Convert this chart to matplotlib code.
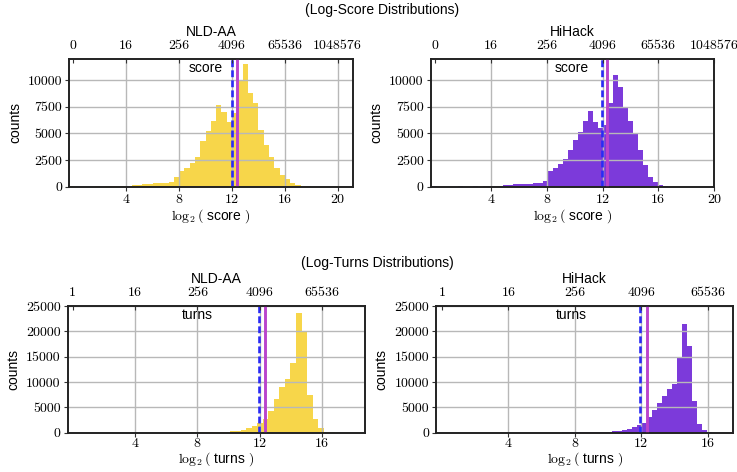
import numpy as np
import matplotlib
matplotlib.use('Agg')
from matplotlib import pyplot as plt

plt.rcParams['font.family'] = 'Liberation Sans'
plt.rcParams['mathtext.fontset'] = 'cm'
plt.rcParams['font.size'] = 10
plt.rcParams['axes.unicode_minus'] = False

# histogram counts (log2 bins, one value per bin)
nld_score_start, nld_score_width = -0.4, 0.4
nld_score_counts = [100, 0, 0, 0, 0, 60, 0, 30, 30, 40,
                    50, 100, 130, 190, 220, 280, 310, 340, 310, 470,
                    880, 1500, 1760, 2260, 2830, 4280, 5190, 6200, 7650, 7000,
                    6070, 6900, 10000, 11500, 8800, 7800, 5280, 3870, 2770, 1760,
                    1130, 720, 310, 160, 60, 20, 10, 0, 0, 0,
                    0, 10]

hh_score_start, hh_score_width = -0.203, 0.36
hh_score_counts = [100, 0, 0, 0, 0, 40, 0, 0, 40, 0,
                   30, 50, 60, 90, 130, 160, 220, 280, 280, 250,
                   300, 350, 500, 1500, 1760, 2140, 2600, 3400, 4400, 5130,
                   6160, 7050, 6100, 5500, 5800, 7800, 10500, 9300, 7500, 6200,
                   5000, 3400, 2000, 950, 410, 160, 60, 10]

nld_turns_start, nld_turns_width = 0.13, 0.355
nld_turns_counts = [0, 0, 0, 0, 0, 0, 0, 0, 0, 0,
                    0, 0, 0, 0, 0, 0, 0, 0, 0, 20,
                    30, 50, 60, 70, 80, 100, 130, 200, 300, 400,
                    530, 990, 1320, 1970, 2700, 4280, 6700, 8950, 10500, 13700,
                    23560, 19940, 7430, 2700, 860, 200, 40]

hh_turns_start, hh_turns_width = 0.04, 0.3
hh_turns_counts = [0, 0, 0, 0, 0, 0, 0, 0, 0, 0,
                   0, 0, 0, 0, 0, 0, 0, 0, 0, 0,
                   0, 0, 0, 20, 40, 80, 80, 40, 40, 60,
                   90, 120, 160, 220, 300, 400, 530, 720, 1050, 1510,
                   1970, 3030, 4470, 5790, 7300, 8620, 9600, 14670, 21450, 17100,
                   6320, 1710, 530, 130]

# reference lines (log2 values)
score_dashed = [12.02, 11.94]
score_solid = [12.38, 12.33]
turns_dashed = [11.94, 11.94]
turns_solid = [12.32, 12.34]

score_top_ticks = [0, 4, 8, 12, 16, 20]
score_top_labels = ['0', '16', '256', '4096', '65536', '1048576']
turns_top_ticks = [0, 4, 8, 12, 16]
turns_top_labels = ['1', '16', '256', '4096', '65536']

yellow = '#f7d64a'
purple = '#7c3ada'

fig = plt.figure(figsize=(7.37, 4.72), dpi=100)

W, H = 737., 472.
def box(x0, y0, x1, y1):
    return [x0/W, 1-y1/H, (x1-x0)/W, (y1-y0)/H]

panels = [
    (box(69, 59, 353, 186.7), nld_score_start, nld_score_width, nld_score_counts, yellow,
     (-0.33, 21.16), 11970, [0, 2500, 5000, 7500, 10000], score_dashed[0], score_solid[0],
     'NLD-AA', 'score', score_top_ticks, score_top_labels, [4, 8, 12, 16, 20], 10.0),
    (box(430.7, 59, 714, 186.7), hh_score_start, hh_score_width, hh_score_counts, purple,
     (-0.33, 20.0), 11970, [0, 2500, 5000, 7500, 10000], score_dashed[1], score_solid[1],
     'HiHack', 'score', score_top_ticks, score_top_labels, [4, 8, 12, 16, 20], 9.8),
    (box(67.7, 306, 365, 432.7), nld_turns_start, nld_turns_width, nld_turns_counts, yellow,
     (-0.32, 18.76), 25000, [0, 5000, 10000, 15000, 20000, 25000], turns_dashed[0], turns_solid[0],
     'NLD-AA', 'turns', turns_top_ticks, turns_top_labels, [4, 8, 12, 16], 8.0),
    (box(436, 306, 733.3, 432.7), hh_turns_start, hh_turns_width, hh_turns_counts, purple,
     (-0.36, 17.55), 25000, [0, 5000, 10000, 15000, 20000, 25000], turns_dashed[1], turns_solid[1],
     'HiHack', 'turns', turns_top_ticks, turns_top_labels, [4, 8, 12, 16], 7.8),
]

for (pos, start, width, counts, col, xlim, ymax, yticks, xd, xs,
     name, var, tt, tl, bt, textx) in panels:
    ax = fig.add_axes(pos)
    edges = start + width*np.arange(len(counts))
    ax.bar(edges, counts, width=width, align='edge', color=col, linewidth=0)
    ax.axvline(xd, color='#2a2af5', lw=1.9, ls=(0, (2.6, 1.2)), zorder=3)
    ax.axvline(xs, color='#bb44cc', lw=2.1, zorder=3)
    ax.set_xlim(xlim)
    ax.set_ylim(0, ymax)
    ax.set_xticks(bt)
    ax.set_xticklabels([str(t) for t in bt], fontfamily='cmr10', fontsize=10)
    ax.set_yticks(yticks)
    ax.set_yticklabels([str(t) for t in yticks], fontfamily='cmr10', fontsize=10)
    ax.grid(True, color='#b8b8b8', lw=1.0)
    ax.tick_params(length=3, pad=2, color='#333333')
    for s in ax.spines.values():
        s.set_linewidth(1.2)
        s.set_color('#222222')
    ax.set_ylabel('counts', fontsize=10, labelpad=4)
    if var == 'score':
        ax.set_xlabel(r'$\log_2($ ' + var + r' $)$', fontsize=10, labelpad=1)
    else:
        ax.tick_params(axis='x', pad=1)
        ax.set_xlabel(r'$\log_2($ ' + var + r' $)$', fontsize=10, labelpad=0)
    ax.text(textx, 0.93, var, transform=ax.get_xaxis_transform(), ha='center', va='center', fontsize=10)

    axt = ax.twiny()
    axt.set_xlim(xlim)
    axt.set_xticks(tt)
    axt.set_xticklabels(tl, fontfamily='cmr10', fontsize=10)
    axt.tick_params(direction='in', length=3, pad=5, color='#333333')
    for s in axt.spines.values():
        s.set_linewidth(1.2)
        s.set_color('#222222')
    axt.set_title(name, fontsize=10, pad=3)

fig.text(0.518, 0.978, '(Log-Score Distributions)', ha='center', va='center', fontsize=10)
fig.text(0.512, 0.442, '(Log-Turns Distributions)', ha='center', va='center', fontsize=10)

plt.savefig('out.png', dpi=100)
